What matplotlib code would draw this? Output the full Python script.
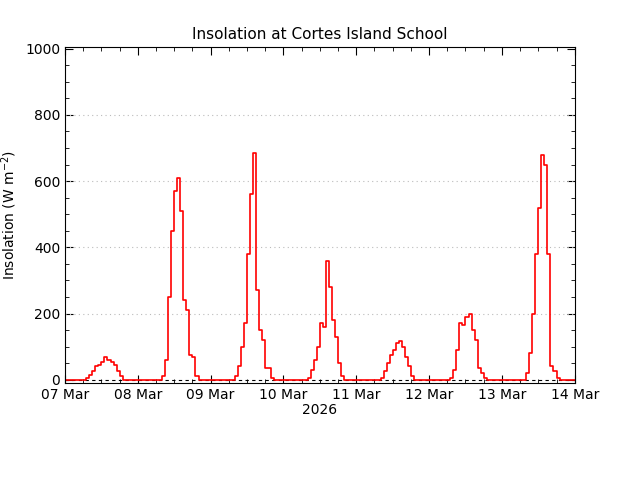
import numpy as np
import matplotlib
matplotlib.use("Agg")
import matplotlib.pyplot as plt
from matplotlib.ticker import MultipleLocator

# hourly insolation, hour index from 07 Mar 00:00 (nonzero hours only, others 0)
day_hours = list(range(7, 19)) + list(range(32, 44)) + list(range(56, 69)) + \
    list(range(80, 92)) + list(range(104, 115)) + list(range(127, 139)) + list(range(152, 163))
day_values = [5, 15, 25, 40, 45, 55, 68, 60, 55, 45, 25, 10,
              10, 60, 250, 450, 570, 610, 510, 240, 210, 75, 70, 10,
              10, 40, 100, 170, 380, 560, 685, 270, 150, 120, 35, 35, 5,
              5, 30, 60, 100, 170, 160, 360, 280, 180, 130, 50, 10,
              5, 25, 50, 75, 90, 110, 118, 100, 70, 40, 12,
              5, 30, 90, 170, 165, 190, 198, 150, 120, 35, 20, 5,
              20, 80, 200, 380, 520, 680, 650, 380, 40, 25, 5]
xtick_labels = ["07 Mar", "08 Mar", "09 Mar", "10 Mar", "11 Mar", "12 Mar", "13 Mar", "14 Mar"]

vals = np.zeros(169)
for h, v in zip(day_hours, day_values):
    vals[h] = v
t = np.arange(169) / 24.0

fig = plt.figure(figsize=(6.4, 4.8), dpi=100)
ax = fig.add_axes([0.1016, 0.202, 0.7964, 0.70])
for yv in [200, 400, 600, 800]:
    ax.axhline(yv, color="#bbbbbb", linestyle=(0, (1, 3)), linewidth=0.8)
ax.axhline(0, color="black", linestyle=(0, (3, 3)), linewidth=0.8)
ax.step(t, vals, where="post", color="red", linewidth=1.2)
ax.set_xlim(0, 7)
ax.set_ylim(-10, 1005)
ax.set_xticks(range(8))
ax.set_xticklabels(xtick_labels)
ax.xaxis.set_minor_locator(MultipleLocator(0.25))
ax.set_yticks(range(0, 1001, 200))
ax.yaxis.set_minor_locator(MultipleLocator(50))
ax.tick_params(which="both", direction="in", top=True, right=True, labelsize=10)
ax.tick_params(which="major", length=6)
ax.tick_params(which="minor", length=3)
ax.set_title("Insolation at Cortes Island School", fontsize=11)
ax.set_xlabel("2026", fontsize=10, labelpad=1)
ax.set_ylabel("Insolation (W m$^{-2}$)", fontsize=10)
fig.savefig("out.png", dpi=100)
